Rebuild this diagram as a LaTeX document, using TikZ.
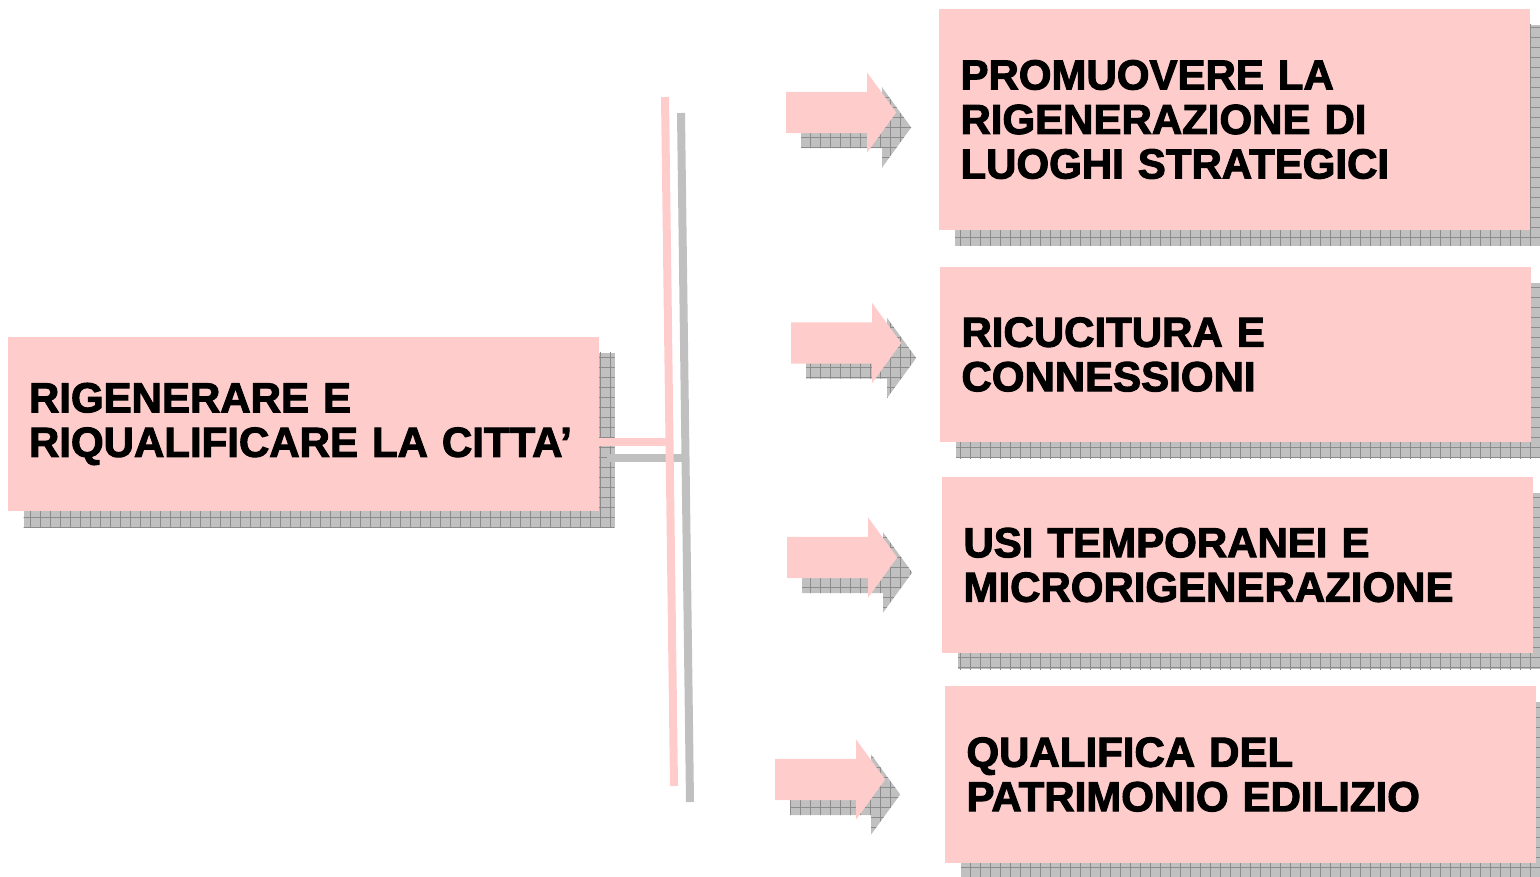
\documentclass[tikz,border=0pt]{standalone}
\usepackage{fontspec}
\newfontfamily\blackfont{Liberation Sans}[BoldFeatures={FakeBold=2.5}]
\usetikzlibrary{shapes.arrows,shadows,patterns.meta,calc}
\definecolor{boxpink}{RGB}{255,204,204}
\definecolor{shadegray}{RGB}{192,192,192}
\definecolor{gridgray}{RGB}{140,140,140}

\begin{document}
\begin{tikzpicture}[x=1pt,y=-1pt,
  hatch/.style={general shadow={fill=shadegray,shadow xshift=#1,shadow yshift=-#1},
    general shadow={pattern={Hatch[distance=10pt,line width=.6pt]},pattern color=gridgray,shadow xshift=#1,shadow yshift=-#1}},
  goal/.style={fill=boxpink,hatch=16pt,minimum width=591pt,text width=548pt,inner xsep=21.5pt,align=left,
    font=\blackfont\bfseries\fontsize{42}{44.5}\selectfont},
  push/.style={single arrow,fill=boxpink,hatch=15pt,minimum height=110pt,minimum width=80pt,inner xsep=0pt,
    inner ysep=20.5pt,single arrow head extend=19.5pt,single arrow tip angle=108,anchor=tail},
  bar/.style={boxpink,line width=8pt},
  barshade/.style={shadegray,line width=8pt}]
\useasboundingbox (0,0) rectangle (1540,877);

% left box and the four goals
\node[goal,minimum height=174pt] (root) at (303,424) {RIGENERARE E\\RIQUALIFICARE LA CITTA’};
\node[goal,minimum height=221pt] (g1) at (1234.5,119.5) {PROMUOVERE LA\\RIGENERAZIONE DI\\LUOGHI STRATEGICI};
\node[goal,minimum height=175pt] (g2) at (1235.5,354.5) {RICUCITURA E\\CONNESSIONI};
\node[goal,minimum height=176pt] (g3) at (1237.5,565) {USI TEMPORANEI E\\MICRORIGENERAZIONE};
\node[goal,minimum height=177pt] (g4) at (1240.5,774.5) {QUALIFICA DEL\\PATRIMONIO EDILIZIO};

% bracket
\coordinate (bt) at (665,97);
\coordinate (bb) at (674,786);
\coordinate (bm) at ($(bt)!0.5!(bb)$);
\draw[barshade] ([shift={(8,16)}]root.east |- bm) -- ([shift={(16,16)}]bm);
\draw[barshade] ([shift={(16,16)}]bt) -- ([shift={(16,16)}]bb);
\draw[bar] (root.east |- bm) -- (bm);
\draw[bar] (bt) -- (bb);

% arrows
\node[push] (arr1) at (786,112.5) {};
\node[push] (arr2) at (791,343) {};
\node[push] (arr3) at (787,557.5) {};
\node[push] (arr4) at (775,779.5) {};
\end{tikzpicture}
\end{document}
